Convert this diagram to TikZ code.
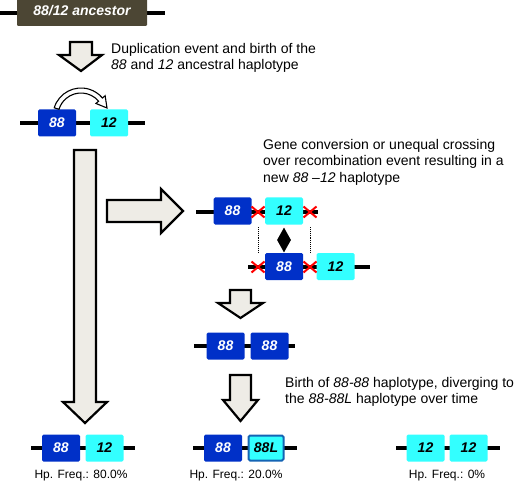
\documentclass[tikz,border=0pt]{standalone}
\usepackage{fontspec}
\setmainfont{Liberation Sans}
\usetikzlibrary{shapes.geometric,shapes.misc}

\definecolor{gblue}{RGB}{0,48,200}
\definecolor{gcyan}{RGB}{51,255,255}
\definecolor{ancbrown}{RGB}{76,70,52}
\definecolor{arrfill}{RGB}{238,236,230}
\definecolor{lborder}{RGB}{20,100,180}

\begin{document}
\begin{tikzpicture}[
		x=1pt, y=-1pt,
		every node/.style={inner sep=0pt},
		chrom/.style={line width=4.5pt},
		gene/.style={rectangle, rounded corners=1.5pt, minimum width=38pt, minimum height=27pt,
			font=\fontsize{14}{14}\selectfont\bfseries\itshape},
		g88/.style={gene, fill=gblue, text=white},
		g12/.style={gene, fill=gcyan},
		blockarrow/.style={draw, line width=2.2pt, fill=arrfill, line join=miter},
		cut/.style={cross out, draw=red, line width=2pt, minimum width=11pt, minimum height=9pt},
		caption/.style={anchor=north west, align=left, font=\fontsize{14}{16.5}\selectfont},
		freq/.style={anchor=base, font=\fontsize{12}{12}\selectfont}
	]
  \useasboundingbox (0,0) rectangle (519,481);

  % ancestor
  \coordinate (anc_l) at (0,13);
  \coordinate (anc_r) at (165,13);
  \draw[chrom] (anc_l) -- (anc_r);
  \node (anc) [fill=ancbrown, rounded corners=1pt, minimum width=130pt, minimum height=30pt, text=white,
    font=\fontsize{14}{14}\selectfont\bfseries\itshape] at (82,11) {88/12 ancestor};

  % arrows
  \draw[blockarrow] (70,42) -- (92,42) -- (92,55) -- (102,55) -- (81,71) -- (59,55) -- (70,55) -- cycle;
  \draw[blockarrow] (74,150) -- (96,150) -- (96,402) -- (107,402) -- (85,423) -- (63,402) -- (74,402) -- cycle;
  \draw[blockarrow] (107,200) -- (161,200) -- (161,189) -- (183,211) -- (161,233) -- (161,222) -- (107,222) -- cycle;
  \draw[blockarrow] (230,290) -- (251,290) -- (251,303) -- (263,303) -- (240.5,318) -- (218,303) -- (230,303) -- cycle;
  \draw[blockarrow] (230,375) -- (251,375) -- (251,400) -- (258,400) -- (240.5,421) -- (223,400) -- (230,400) -- cycle;

  \node (dup_txt) [caption] at (111,43) {Duplication event and birth of the\\
    \textit{88} and \textit{12} ancestral haplotype};
  \node (conv_txt) [caption] at (263,139) {Gene conversion or unequal crossing\\
    over recombination event resulting in a\\ new \textit{88 --12} haplotype};
  \node (birth_txt) [caption] at (285,377) {Birth of \textit{88-88} haplotype, diverging to\\
    the \textit{88-88L} haplotype over time};

  % ancestral haplotype
  \coordinate (r1_l) at (20,123);
  \coordinate (r1_r) at (145,123);
  \draw[chrom] (r1_l) -- (r1_r);
  \node (a88) [g88] at (57,123) {88};
  \node (a12) [g12] at (109,123) {12};
  \coordinate (c) at (81,116);
  \draw[fill=white, line width=1.1pt, line join=miter]
    ([shift={(197:28)}]c) arc[start angle=197, end angle=320, radius=28]
    -- ([shift={(320:31.5)}]c) -- (107,108) -- ([shift={(320:19.5)}]c)
    -- ([shift={(320:23)}]c) arc[start angle=320, end angle=197, radius=23] -- cycle;

  % recombination
  \coordinate (r2_l) at (196,212);
  \coordinate (r2_r) at (318,212);
  \draw[chrom] (r2_l) -- (r2_r);
  \node (b88) [g88] at (232.5,211) {88};
  \node (b12) [g12] at (284,211) {12};
  \node (x1) [cut] at (258,212) {};
  \node (x2) [cut] at (310,212) {};

  \coordinate (r3_l) at (248,267);
  \coordinate (r3_r) at (370,267);
  \draw[chrom] (r3_l) -- (r3_r);
  \node (c88) [g88] at (284,266.5) {88};
  \node (c12) [g12] at (335.5,266.5) {12};
  \node (x3) [cut] at (258,267) {};
  \node (x4) [cut] at (310,267) {};

  \coordinate (d1_t) at (258,227);
  \coordinate (d1_b) at (258,252);
  \coordinate (d2_t) at (310,227);
  \coordinate (d2_b) at (310,252);
  \draw[densely dotted, line width=0.9pt] (d1_t) -- (d1_b);
  \draw[densely dotted, line width=0.9pt] (d2_t) -- (d2_b);
  \node (swap) [diamond, fill=black, minimum width=14pt, minimum height=25pt, aspect=0.55] at (284,240) {};

  % 88-88
  \coordinate (r4_l) at (194,346);
  \coordinate (r4_r) at (295,346);
  \draw[chrom] (r4_l) -- (r4_r);
  \node (d88a) [g88] at (225.5,346) {88};
  \node (d88b) [g88] at (269.5,346) {88};

  % resulting haplotypes
  \coordinate (h1_l) at (31,448);
  \coordinate (h1_r) at (135,448);
  \draw[chrom] (h1_l) -- (h1_r);
  \node (e88) [g88] at (61,448) {88};
  \node (e12) [g12] at (104.5,448) {12};
  \node (e_freq) [freq] at (81,478) {Hp. Freq.: 80.0\%};

  \coordinate (h2_l) at (193,448);
  \coordinate (h2_r) at (297,448);
  \draw[chrom] (h2_l) -- (h2_r);
  \node (f88) [g88] at (223,448) {88};
  \node (f88L) [gene, fill=gcyan, draw=lborder, line width=2pt, minimum width=35pt, minimum height=25pt] at (266,448) {88L};
  \node (f_freq) [freq] at (236,478) {Hp. Freq.: 20.0\%};

  \coordinate (h3_l) at (396,448);
  \coordinate (h3_r) at (500,448);
  \draw[chrom] (h3_l) -- (h3_r);
  \node (g12a) [g12] at (425.5,448) {12};
  \node (g12b) [g12] at (468.5,448) {12};
  \node (g_freq) [freq] at (447,478) {Hp. Freq.: 0\%};
\end{tikzpicture}
\end{document}
